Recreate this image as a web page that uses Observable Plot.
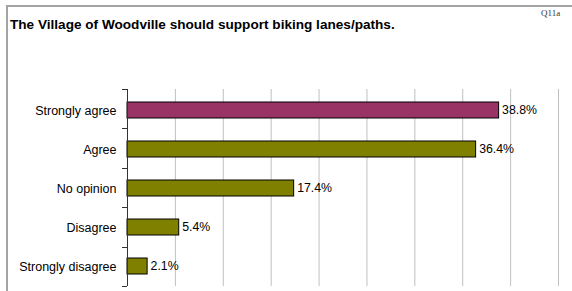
<!DOCTYPE html>
<html>
<head>
<meta charset="utf-8">
<script src="https://cdn.jsdelivr.net/npm/d3@7"></script>
<script src="https://cdn.jsdelivr.net/npm/@observablehq/plot@0.6"></script>
<style>
  html, body { margin: 0; padding: 0; background: #fff; }
  #wrap { position: relative; width: 572px; height: 291px; overflow: hidden; font-family: "Liberation Sans", Arial, sans-serif; }
  #frame { position: absolute; left: 6px; top: 5px; right: -4px; bottom: -4px; border-top: 2px solid #a4a4a4; border-left: 2px solid #a4a4a4; }
  #title { position: absolute; left: 10px; top: 17px; font-size: 13.6px; font-weight: bold; color: #000; white-space: nowrap; }
  #code { position: absolute; left: 541px; top: 8px; font-family: "Liberation Serif", "Times New Roman", serif; font-size: 9px; color: #333; }
  #chart { position: absolute; left: 0; top: 0; }
</style>
</head>
<body>
<div id="wrap">
  <div id="chart"></div>
  <div id="frame"></div>
  <div id="title">The Village of Woodville should support biking lanes/paths.</div>
  <div id="code">Q11a</div>
</div>
<script>
const categories = ["Strongly agree", "Agree", "No opinion", "Disagree", "Strongly disagree"];
const values = [38.8, 36.4, 17.4, 5.4, 2.1];
const colors = ["#993366", "#808000", "#808000", "#808000", "#808000"];
const xTicks = [0, 5, 10, 15, 20, 25, 30, 35, 40, 45];

const data = categories.map((c, i) => ({category: c, value: values[i], color: colors[i]}));

const boundaryTicks = (index, scales, values_, dims) => {
  const g = d3.create("svg:g");
  const n = categories.length;
  const top = dims.marginTop, bottom = dims.height - dims.marginBottom;
  const step = (bottom - top) / n;
  const x0 = scales.x(0);
  for (let i = 0; i <= n; i++) {
    const y = Math.round(top + i * step) + 0.5;
    g.append("line").attr("x1", x0 - 5).attr("x2", x0).attr("y1", y).attr("y2", y)
      .attr("stroke", "#333").attr("stroke-width", 1);
  }
  return g.node();
};

const chart = Plot.plot({
  width: 572,
  height: 291,
  marginLeft: 127,
  marginRight: 14,
  marginTop: 89,
  marginBottom: 5,
  style: {fontFamily: "Liberation Sans, Arial, sans-serif", fontSize: "12px", color: "#000", background: "transparent"},
  x: {domain: [0, 45], axis: null},
  y: {domain: categories, paddingInner: 0.6, paddingOuter: 0.3, axis: null, label: null},
  marks: [
    Plot.gridX(xTicks, {stroke: "#c0c0c0", strokeOpacity: 1}),
    Plot.barX(data, {y: "category", x: "value", fill: "color", stroke: "#000", strokeWidth: 1}),
    Plot.ruleX([0], {stroke: "#333"}),
    boundaryTicks,
    Plot.axisY({tickSize: 0, tickPadding: 11, fontSize: 12.5, fill: "#000", label: null}),
    Plot.text(data, {y: "category", x: "value", text: d => d.value.toFixed(1) + "%", textAnchor: "start", dx: 3, fill: "#000", fontSize: 12.3})
  ]
});
document.getElementById("chart").appendChild(chart);
</script>
</body>
</html>
